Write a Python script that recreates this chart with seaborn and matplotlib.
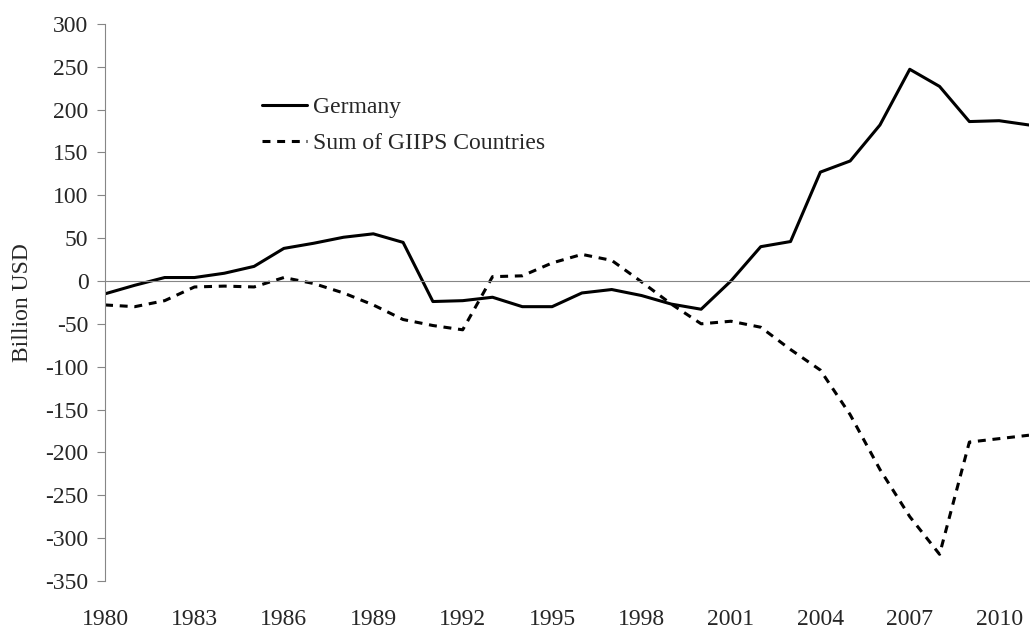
import matplotlib
matplotlib.use("Agg")
import matplotlib.pyplot as plt
import seaborn as sns

years = list(range(1980, 2012))
germany = [-15, -5, 4, 4, 9, 17, 38, 44, 51, 55, 45, -24, -23, -19, -30, -30,
           -14, -10, -17, -27, -33, 0, 40, 46, 127, 140, 182, 247, 227, 186, 187, 182]
giips = [-28, -30, -23, -7, -6, -7, 4, -3, -14, -28, -45, -52, -57, 5, 6, 21,
         31, 24, -1, -27, -50, -47, -54, -80, -104, -156, -220, -275, -319, -188, -184, -180]
label_years = list(range(1980, 2011, 3))
y_ticks = list(range(-350, 301, 50))

sns.set_style("white")
plt.rcParams['font.family'] = ['Liberation Serif', 'DejaVu Serif']
plt.rcParams['font.size'] = 17
plt.rcParams['axes.unicode_minus'] = False

fig, ax = plt.subplots(figsize=(10.3, 6.28), dpi=100)
fig.subplots_adjust(left=0.102, right=0.999, top=0.962, bottom=0.075)

sns.lineplot(x=years, y=germany, ax=ax, color='black', linewidth=2.2, label='Germany')
sns.lineplot(x=years, y=giips, ax=ax, color='black', linewidth=2.2,
             linestyle=(0, (2.6, 2.2)), label='Sum of GIIPS Countries')

ax.set_xlim(1980, 2011)
ax.set_ylim(-350, 300)
ax.set_yticks(y_ticks)
ax.set_ylabel('Billion USD', fontsize=17, labelpad=9)
ax.set_xlabel('')

axis_gray = '#868686'
for s in ['top', 'right']:
    ax.spines[s].set_visible(False)
ax.spines['left'].set_color(axis_gray)
ax.spines['bottom'].set_color(axis_gray)
ax.spines['bottom'].set_position(('data', 0))
ax.set_xticks(years)
ax.tick_params(axis='x', labelbottom=False, direction='out', length=6, color=axis_gray)
ax.tick_params(axis='y', direction='out', length=6, color=axis_gray, pad=6,
               left=True, labelsize=17)

# year labels sit at the bottom of the plot, ticks stay on the zero line
sec = ax.secondary_xaxis('bottom')
sec.set_xticks(label_years)
sec.spines['bottom'].set_visible(False)
sec.tick_params(axis='x', length=0, pad=20, labelsize=17)

leg = ax.legend(loc='upper left', bbox_to_anchor=(0.170, 0.869), frameon=False,
                borderpad=0, borderaxespad=0, handlelength=1.9, handletextpad=0.25,
                labelspacing=0.6, fontsize=17)

fig.savefig('out.png', dpi=100)
